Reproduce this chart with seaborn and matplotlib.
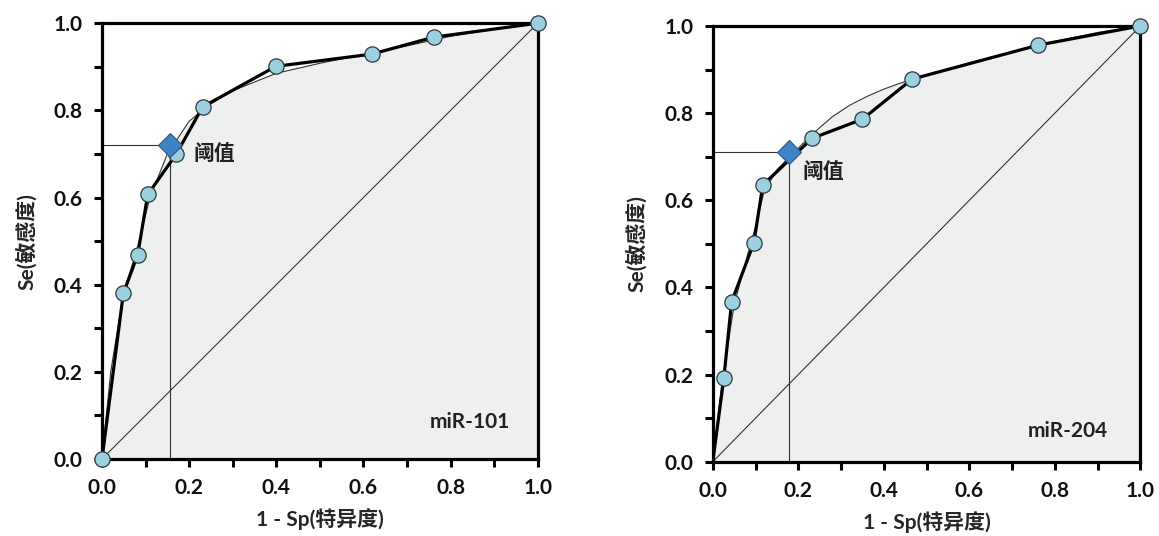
import numpy as np
import matplotlib
matplotlib.use("Agg")
import matplotlib.pyplot as plt
import seaborn as sns

# ROC 点 (1 - Sp, Se)
fpr_101 = [0.0, 0.049, 0.082, 0.105, 0.170, 0.231, 0.399, 0.619, 0.761, 1.0]
tpr_101 = [0.0, 0.380, 0.469, 0.607, 0.699, 0.808, 0.901, 0.929, 0.968, 1.0]
fpr_204 = [0.0, 0.026, 0.044, 0.096, 0.117, 0.232, 0.350, 0.466, 0.761, 1.0]
tpr_204 = [0.0, 0.193, 0.367, 0.502, 0.635, 0.742, 0.786, 0.878, 0.956, 1.0]

# 拟合曲线
fit_x_101 = [0.0, 0.02, 0.049, 0.08, 0.11, 0.15, 0.20, 0.25, 0.30, 0.40, 0.50, 0.60, 0.70, 0.80, 0.90, 1.0]
fit_y_101 = [0.0, 0.20, 0.380, 0.48, 0.60, 0.70, 0.775, 0.815, 0.845, 0.885, 0.908, 0.928, 0.948, 0.970, 0.986, 1.0]
fit_x_204 = [0.0, 0.02, 0.05, 0.08, 0.10, 0.12, 0.15, 0.20, 0.24, 0.28, 0.32, 0.36, 0.40, 0.436, 0.50, 0.60, 0.76, 0.90, 1.0]
fit_y_204 = [0.0, 0.17, 0.36, 0.47, 0.54, 0.62, 0.67, 0.72, 0.758, 0.792, 0.818, 0.838, 0.855, 0.868, 0.888, 0.915, 0.956, 0.985, 1.0]

# 阈值点
cut_101 = (0.155, 0.720)
cut_204 = (0.179, 0.711)

names = ["miR-101", "miR-204"]

sns.set_style("white")
lat = ["Lato", "Noto Sans CJK SC", "DejaVu Sans"]
plt.rcParams['font.family'] = lat

fig = plt.figure(figsize=(11.59, 5.36), dpi=100)
ax1 = fig.add_axes([0.088, 0.1437, 0.376, 0.813])
ax2 = fig.add_axes([0.615, 0.1386, 0.369, 0.813])


def draw(ax, fx, fy, sx, sy, cut, name, name_xy, cut_txt_xy, origin_marker):
    ax.fill_between(sx, sy, 0, color="#eef0ef", zorder=0, lw=0)
    sns.lineplot(x=sx, y=sy, sort=False, ax=ax, color="#333333", lw=0.8, zorder=2)
    ax.plot([0, 1], [0, 1], color="#333333", lw=0.8, zorder=2)
    ax.plot([0, cut[0]], [cut[1], cut[1]], color="#333333", lw=0.8, zorder=2)
    ax.plot([cut[0], cut[0]], [0, cut[1]], color="#333333", lw=0.8, zorder=2)
    sns.lineplot(x=fx, y=fy, sort=False, ax=ax, color="black", lw=2.3, zorder=3)
    mx = fx if origin_marker else fx[1:]
    my = fy if origin_marker else fy[1:]
    ax.plot(mx, my, ls="none", marker="o", ms=11, mfc="#9ccfe0",
            mec="#2b3a40", mew=0.9, zorder=4, clip_on=False)
    ax.plot([cut[0]], [cut[1]], ls="none", marker="D", ms=12, mfc="#3f83c4",
            mec="#2a5a8a", mew=0.8, zorder=5, clip_on=False)
    ax.text(cut_txt_xy[0], cut_txt_xy[1], "阈值", fontsize=15, fontweight="bold",
            family=["Noto Sans CJK SC"], ha="left", va="center", color="#222222")
    ax.text(name_xy[0], name_xy[1], name, fontsize=15, fontweight="bold",
            ha="center", va="center", color="#222222")
    ax.set_xlim(0, 1)
    ax.set_ylim(0, 1)
    ax.set_xticks(np.arange(0, 1.01, 0.2))
    ax.set_yticks(np.arange(0, 1.01, 0.2))
    ax.set_xticks(np.arange(0.1, 1.0, 0.2), minor=True)
    ax.set_yticks(np.arange(0.1, 1.0, 0.2), minor=True)
    ax.set_xticklabels(["%.1f" % v for v in np.arange(0, 1.01, 0.2)])
    ax.set_yticklabels(["%.1f" % v for v in np.arange(0, 1.01, 0.2)])
    ax.tick_params(which="both", direction="out", length=6, width=2.2,
                   bottom=True, left=True, color="black", labelsize=15, pad=8)
    for lb in ax.get_xticklabels() + ax.get_yticklabels():
        lb.set_fontweight("bold")
        lb.set_color("#111111")
    for sp in ax.spines.values():
        sp.set_visible(True)
        sp.set_linewidth(2.3)
        sp.set_color("black")
    ax.set_xlabel("1 - Sp(特异度)", fontsize=15, fontweight="bold", labelpad=7)
    ax.set_ylabel("Se(敏感度)", fontsize=15, fontweight="bold", labelpad=12)
    ax.set_facecolor("white")


draw(ax1, fpr_101, tpr_101, fit_x_101, fit_y_101, cut_101, names[0],
     (0.845, 0.085), (0.21, 0.70), True)
draw(ax2, fpr_204, tpr_204, fit_x_204, fit_y_204, cut_204, names[1],
     (0.83, 0.07), (0.21, 0.665), False)

fig.savefig("out.png", dpi=100)
